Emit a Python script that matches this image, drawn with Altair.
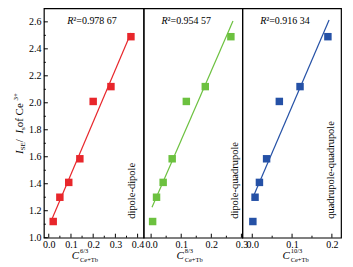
import altair as alt
import pandas as pd

# ---- data ----
y_vals = [1.12, 1.30, 1.41, 1.585, 2.01, 2.12, 2.49]
x_dd = [0.02, 0.05, 0.09, 0.14, 0.20, 0.28, 0.37]
x_dq = [0.005, 0.018, 0.04, 0.07, 0.117, 0.18, 0.265]
x_qq = [0.0015, 0.007, 0.018, 0.036, 0.068, 0.12, 0.19]
x_series = [x_dd, x_dq, x_qq]
r2_labels = ["\u00b2=0.978 67", "\u00b2=0.954 57", "\u00b2=0.916 34"]
mech_labels = ["dipole-dipole", "dipole-quadrupole", "quadrupole-quadrupole"]
exponents = ["6/3", "8/3", "10/3"]
colors = ["#E8262B", "#6CC13F", "#2551A6"]
x_domains = [[-0.022, 0.427], [-0.025, 0.303], [-0.025, 0.223]]
x_major = [[0.0, 0.1, 0.2, 0.3, 0.4], [0.0, 0.1, 0.2, 0.3], [0.0, 0.1, 0.2]]
x_minor = [[0.05, 0.15, 0.25, 0.35], [0.05, 0.15, 0.25], [0.05, 0.15]]
fit_extents = [[0.015, 0.37], [0.003, 0.272], [0.0, 0.193]]
y_major = [1.0, 1.2, 1.4, 1.6, 1.8, 2.0, 2.2, 2.4, 2.6]
y_minor = [1.1, 1.3, 1.5, 1.7, 1.9, 2.1, 2.3, 2.5]
# y-axis title pieces: (text, size, italic, kind) kind: 0 main, 1 sub, 2 sup
ytitle_parts = [("I", 11, True, 0), ("SE", 7, False, 1), (" / ", 11, False, 0),
                ("I", 11, True, 0), ("s", 7, False, 1), (" of Ce", 11, False, 0),
                ("3+", 7, False, 2)]

# ---- styling / layout ----
FONT = "Liberation Serif"
W = [100, 99, 99]
H = 230
r_pos = [29.5, 24, 24]
mech_x = [88.5, 92, 89]
c_x = [31.7, 36.7, 44]
# Times-like advance widths (em) for laying out the rotated title pieces
ADV = {"I": 0.333, "S": 0.556, "E": 0.611, " ": 0.25, "/": 0.278, "s": 0.389,
       "o": 0.5, "f": 0.333, "C": 0.667, "e": 0.444, "3": 0.5, "+": 0.564}
YT_START = 146
YT_BASE = {0: -21.3, 1: -18.8, 2: -25.8}


def one(s):
    return pd.DataFrame({"t": [s]})


def txt(s, x, y, size, italic=False, align="left", baseline="middle", angle=0):
    kw = dict(font=FONT, fontSize=size, align=align, baseline=baseline,
              color="black")
    if italic:
        kw["fontStyle"] = "italic"
    if angle:
        kw["angle"] = angle
    return alt.Chart(one(s)).mark_text(**kw).encode(
        text="t:N", x=alt.value(x), y=alt.value(y))


def panel(i):
    w = W[i]
    xs = alt.Scale(domain=x_domains[i], nice=False, zero=False)
    ys = alt.Scale(domain=[1.0, 2.7], nice=False, zero=False)
    xaxis = alt.Axis(values=x_major[i], format=".1f", ticks=False, domain=False,
                     grid=False, labelPadding=2, labelFont=FONT, labelFontSize=10,
                     labelColor="black", labelFlush=False, title=None)
    if i == 0:
        yaxis = alt.Axis(values=y_major, format=".1f", ticks=False, domain=False,
                         grid=False, labelPadding=3, labelFont=FONT, labelFontSize=10,
                         labelColor="black", title=None)
    else:
        yaxis = None

    X = lambda: alt.X("x:Q", scale=xs, axis=xaxis)
    Y = lambda: alt.Y("y:Q", scale=ys, axis=yaxis)

    df = pd.DataFrame({"x": x_series[i], "y": y_vals})
    base = alt.Chart(df)
    pts = base.mark_point(shape="square", filled=True, size=56, opacity=1,
                          color=colors[i]).encode(x=X(), y=Y())
    fit = base.transform_regression("x", "y", extent=fit_extents[i]).mark_line(
        color=colors[i], strokeWidth=1.2).encode(x=X(), y=Y())

    tmaj = alt.Chart(pd.DataFrame({"x": x_major[i]})).mark_rule(
        color="black", strokeWidth=1).encode(
        x=X(), y=alt.value(H), y2=alt.value(H - 4))
    tmin = alt.Chart(pd.DataFrame({"x": x_minor[i]})).mark_rule(
        color="black", strokeWidth=1).encode(
        x=X(), y=alt.value(H), y2=alt.value(H - 2))

    layers = [fit, pts, tmaj, tmin,
              txt("R", r_pos[i], 13, 10, italic=True, align="right"),
              txt(r2_labels[i], r_pos[i], 13, 10),
              txt(mech_labels[i], mech_x[i], 211, 10.5, angle=270),
              txt("C", c_x[i], H + 18, 11, italic=True, align="center"),
              txt(exponents[i], c_x[i] + 4.5, H + 13, 6.5),
              txt("Ce+Tb", c_x[i] + 4.5, H + 22, 6.5)]
    if i == 0:
        ymaj = alt.Chart(pd.DataFrame({"y": y_major})).mark_rule(
            color="black", strokeWidth=1).encode(
            y=Y(), x=alt.value(0), x2=alt.value(4))
        ymin = alt.Chart(pd.DataFrame({"y": y_minor})).mark_rule(
            color="black", strokeWidth=1).encode(
            y=Y(), x=alt.value(0), x2=alt.value(2))
        layers += [ymaj, ymin]
        pos = YT_START
        for s, size, it, kind in ytitle_parts:
            layers.append(txt(s, YT_BASE[kind], pos, size, italic=it,
                              baseline="alphabetic", angle=270))
            pos -= sum(ADV.get(ch, 0.5) for ch in s) * size
    return alt.layer(*layers).properties(width=w, height=H)


chart = alt.hconcat(panel(0), panel(1), panel(2), spacing=0, bounds="flush").properties(
    padding={"left": 11, "top": 7, "right": 11, "bottom": 3},
    background="white",
).configure_view(stroke="black", strokeWidth=1.2)

chart.save("out.html", embed_options={"renderer": "svg", "actions": False})
